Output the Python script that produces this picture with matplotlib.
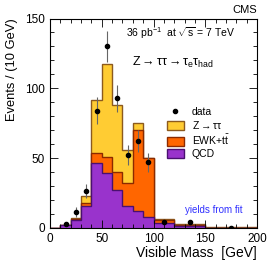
import numpy as np
import matplotlib
matplotlib.use('Agg')
import matplotlib.pyplot as plt
from matplotlib.patches import Patch
from matplotlib.lines import Line2D
from matplotlib.ticker import MultipleLocator

plt.rcParams['font.family'] = ['Liberation Sans', 'DejaVu Sans']
plt.rcParams['mathtext.fontset'] = 'custom'
plt.rcParams['mathtext.rm'] = 'Liberation Sans'
plt.rcParams['mathtext.it'] = 'Liberation Sans'

# bin edges (GeV) and stacked contributions, events / 10 GeV
edges = [0, 10, 20, 30, 40, 50, 60, 70, 80, 90, 100, 120, 150, 200]
qcd = [0.2, 2.0, 5.8, 15.5, 46.4, 39.6, 27.5, 16.0, 12.3, 7.7, 3.5, 1.4, 0.2]
ewk = [0.1, 0.2, 0.7, 2.5, 7.6, 10.9, 12.5, 16.5, 57.7, 42.3, 2.5, 1.1, 0.1]
ztt = [0.0, 0.0, 0.5, 5.0, 38.0, 67.0, 48.0, 23.5, 5.0, 0.0, 0.8, 0.4, 0.1]

# observed data
data_x = [15, 25, 35, 45, 55, 65, 75, 85, 95, 110, 135, 175]
data_y = [2.8, 11.3, 26.5, 84, 130, 93, 52, 62, 47, 4.2, 4.3, 0.35]
data_err = [1.7, 3.4, 5.2, 9.6, 11.4, 9.6, 7.2, 7.9, 6.9, 1.5, 1.2, 0.2]

h_qcd = np.array(qcd)
h_ewk = h_qcd + np.array(ewk)
h_tot = h_ewk + np.array(ztt)

fig = plt.figure(figsize=(2.76, 2.65), dpi=100)
ax = fig.add_axes([50/276, 1-228/265, 207/276, 209.5/265])

ax.stairs(h_tot, edges, fill=True, color='#ffcc33')
ax.stairs(h_tot, edges, color='#8c5a1e', lw=1.0)
ax.stairs(h_ewk, edges, fill=True, color='#ff6600')
ax.stairs(h_ewk, edges, color='#8b2a00', lw=1.0)
ax.stairs(h_qcd, edges, fill=True, color='#9933cc')
ax.stairs(h_qcd, edges, color='#4a1070', lw=1.0)

ax.errorbar(data_x, data_y, yerr=data_err, fmt='o', color='black', ms=3,
            ecolor='#666666', elinewidth=0.8, capsize=0)

ax.set_xlim(0, 200)
ax.set_ylim(0, 150)
ax.xaxis.set_major_locator(MultipleLocator(50))
ax.xaxis.set_minor_locator(MultipleLocator(10))
ax.yaxis.set_major_locator(MultipleLocator(50))
ax.yaxis.set_minor_locator(MultipleLocator(10))
ax.tick_params(which='both', direction='in', top=True, right=True,
               labelsize=8.5, width=0.6)
ax.tick_params(which='major', length=6)
ax.tick_params(which='minor', length=3)
for s in ax.spines.values():
    s.set_linewidth(0.8)

ax.set_xlabel('Visible Mass  [GeV]', fontsize=10, loc='right', labelpad=1)
ax.set_ylabel('Events / (10 GeV)', fontsize=9.3, loc='top', labelpad=5)

fig.text(257/276, 1-10/265, 'CMS', ha='right', va='center', fontsize=8)
ax.text(0.895, 0.93, r'36 pb$^{-1}$  at $\sqrt{\mathrm{s}}$ = 7 TeV', transform=ax.transAxes,
        ha='right', va='center', fontsize=7.5)
ax.text(0.595, 0.79, r'Z$\rightarrow\tau\tau\rightarrow\tau_{\mathrm{e}}\tau_{\mathrm{had}}$',
        transform=ax.transAxes, ha='center', va='center', fontsize=9)
ax.text(0.79, 0.088, 'yields from fit', transform=ax.transAxes, ha='center',
        va='center', fontsize=7, color='#3030ff')

handles = [Line2D([], [], marker='o', color='black', ls='none', ms=3),
           Patch(facecolor='#ffcc33', edgecolor='#8c5a1e'),
           Patch(facecolor='#ff6600', edgecolor='#8b2a00'),
           Patch(facecolor='#9933cc', edgecolor='#4a1070')]
labels = ['data', r'Z$\rightarrow\tau\tau$', r'EWK+t$\bar{\mathrm{t}}$', 'QCD']
ax.legend(handles, labels, loc='upper left', bbox_to_anchor=(0.545, 0.6),
          frameon=False, fontsize=7.5, handlelength=1.6, handleheight=1.0,
          labelspacing=0.2, handletextpad=0.8, borderaxespad=0)

fig.savefig('out.png', dpi=100)
